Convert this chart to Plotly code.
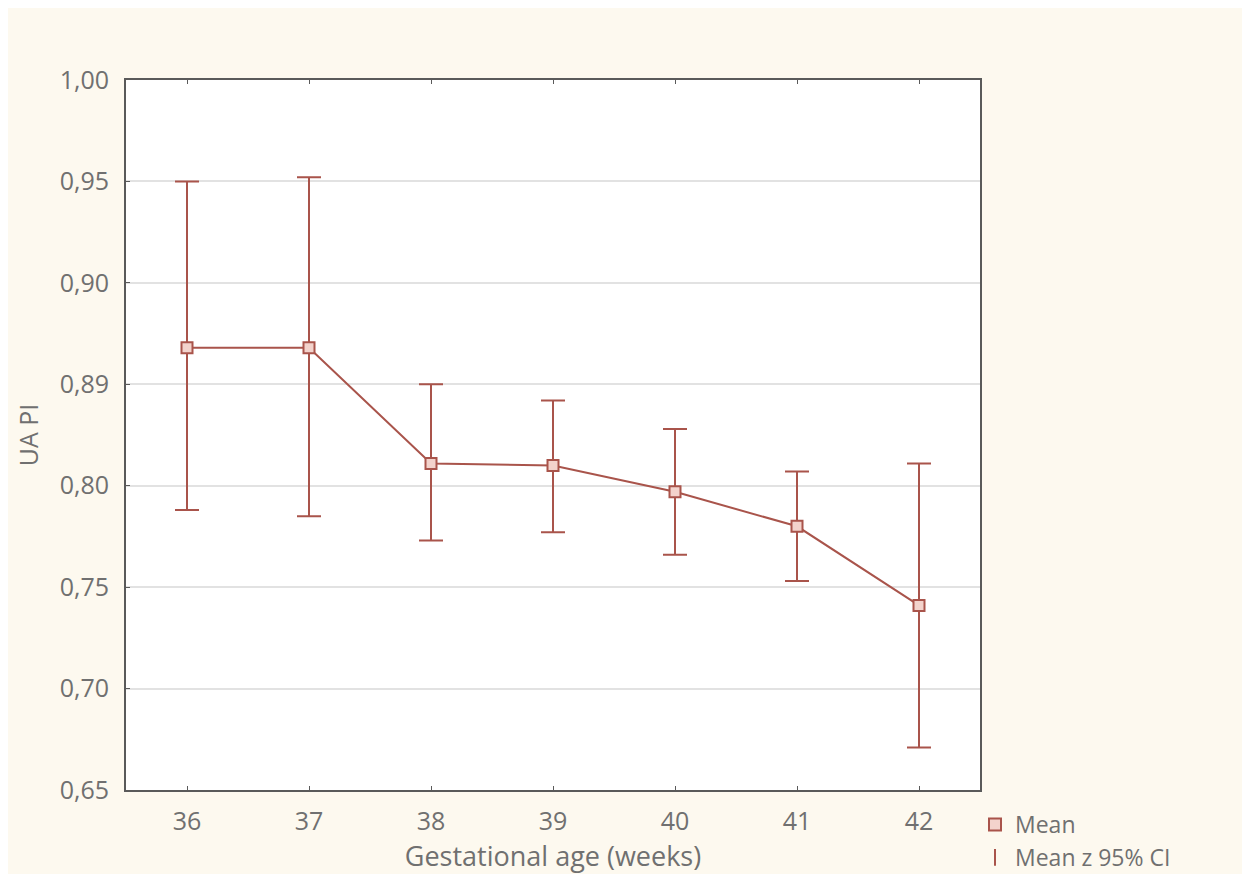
import plotly.graph_objects as go

weeks = [36, 37, 38, 39, 40, 41, 42]
mean_pi = [0.868, 0.868, 0.811, 0.810, 0.797, 0.780, 0.741]
ci_upper = [0.950, 0.952, 0.850, 0.842, 0.828, 0.807, 0.811]
ci_lower = [0.788, 0.785, 0.773, 0.777, 0.766, 0.753, 0.671]
y_tickvals = [0.65, 0.70, 0.75, 0.80, 0.85, 0.90, 0.95, 1.00]
y_ticktext = ["0,65", "0,70", "0,75", "0,80", "0,89", "0,90", "0,95", "1,00"]

red = "#a9544b"
fill = "#f3d3cc"
txt = "#707070"
axc = "#5a5a5a"
cream = "#fdf9ef"

err_plus = [u - m for u, m in zip(ci_upper, mean_pi)]
err_minus = [m - l for m, l in zip(mean_pi, ci_lower)]

fig = go.Figure()
fig.add_trace(go.Scatter(
    x=weeks, y=mean_pi, mode="lines+markers",
    line=dict(color=red, width=2),
    marker=dict(symbol="square", size=11, color=fill, line=dict(color=red, width=2)),
    error_y=dict(type="data", symmetric=False, array=err_plus, arrayminus=err_minus,
                 color=red, thickness=2, width=12),
    showlegend=False,
))
fig.add_trace(go.Scatter(
    x=[None], y=[None], mode="markers", name="Mean",
    marker=dict(symbol="square", size=9, color=fill, line=dict(color=red, width=2)),
))
fig.add_trace(go.Scatter(
    x=[None], y=[None], mode="markers", name="Mean z 95% CI",
    marker=dict(symbol="line-ns-open", size=20, color=red, line=dict(color=red, width=2)),
))

W, H = 1234, 866
L, R, T, B = 118, 262, 72, 84
pw, ph = W - L - R, H - T - B

fig.update_layout(
    width=W, height=H,
    margin=dict(l=L, r=R, t=T, b=B, autoexpand=False),
    paper_bgcolor=cream, plot_bgcolor="white",
    font=dict(family="Open Sans", size=25, color=txt),
    legend=dict(x=(967 - L) / pw, y=-13 / ph, xanchor="left", yanchor="top",
                bgcolor="rgba(0,0,0,0)", font=dict(size=23, color=txt),
                tracegroupgap=0, itemsizing="constant"),
    xaxis=dict(range=[35.5, 42.5], tickvals=weeks, ticktext=[str(w) for w in weeks],
               showgrid=False, zeroline=False, showline=True, linecolor=axc, linewidth=2,
               mirror="ticks", ticks="inside", ticklen=4, tickcolor=axc, automargin=False,
               ticklabelstandoff=8,
               title=dict(text="Gestational age (weeks)", standoff=17, font=dict(size=27, color=txt))),
    yaxis=dict(range=[0.65, 1.00], tickvals=y_tickvals, ticktext=y_ticktext,
               showgrid=True, gridcolor="#e2e2e2", gridwidth=2, zeroline=False,
               showline=True, linecolor=axc, linewidth=2, mirror=True, automargin=False,
               ticks="inside", ticklen=4, tickcolor=axc, ticklabelstandoff=10,
               title=dict(text="UA PI", standoff=14, font=dict(size=25, color=txt))),
)

fig.write_html("out.html")
